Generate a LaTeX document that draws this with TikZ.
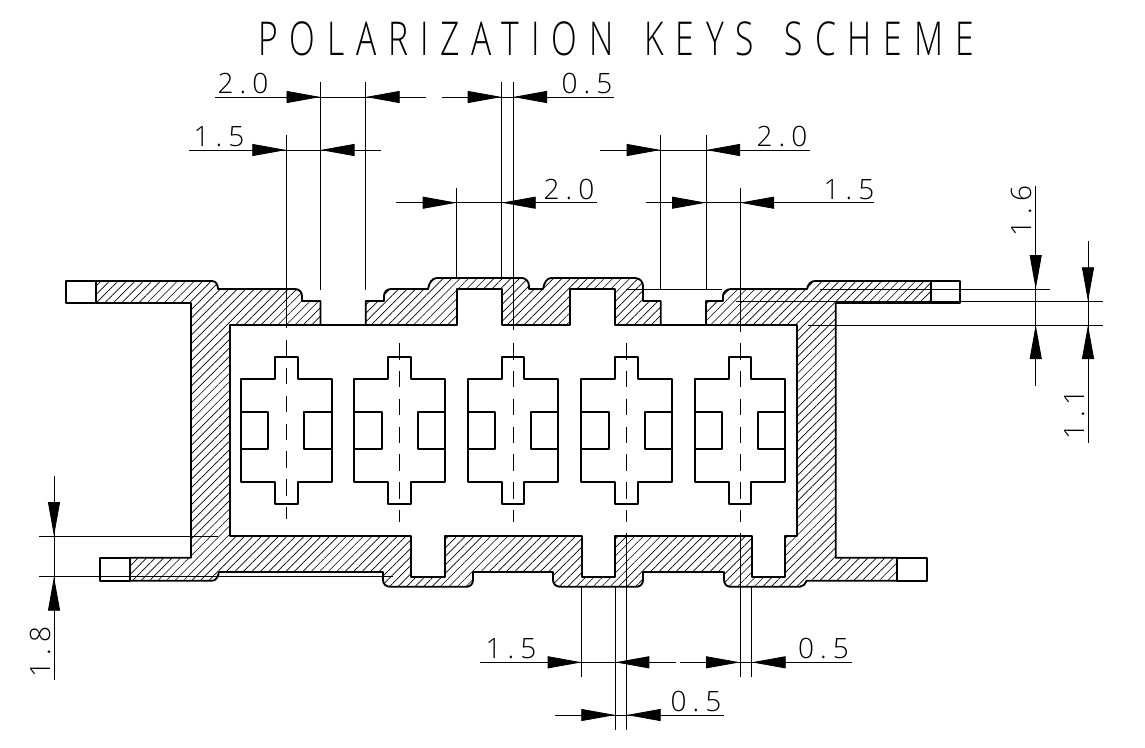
\documentclass[tikz,border=0pt]{standalone}
\usepackage{fontspec}
\usetikzlibrary{arrows.meta,patterns.meta}
\newfontfamily\isofont{Open Sans}[UprightFont=* Light,LetterSpace=22]
\newfontfamily\isotitle{Open Sans}[UprightFont=* Light,FakeStretch=0.72,LetterSpace=25.5,WordSpace=1.5]
\tikzset{
	thick line/.style={line width=1.4pt,line join=round},
	thin line/.style={line width=0.65pt},
	center line/.style={line width=0.65pt,dash pattern=on 12.4pt off 8.5pt},
	tip/.style={line width=0.65pt,-{Triangle[length=25.5pt,width=9pt]}},
	label/.style={inner sep=0pt,anchor=base,font=\isofont\fontsize{21}{21}\selectfont},
	hatch/.style={pattern={Lines[angle=45,distance=4.5pt,line width=0.5pt]},even odd rule}
}
\def\keyslot[#1](#2){
	\draw[#1] (#2-11.3,379) -- (#2-11.3,356.7) -- (#2+11.3,356.7) -- (#2+11.3,379) -- (#2+45.3,379) -- (#2+45.3,481.7) -- (#2+11.3,481.7) -- (#2+11.3,504.3) -- (#2-11.3,504.3) -- (#2-11.3,481.7) -- (#2-45.3,481.7) -- (#2-45.3,379) -- cycle;
	\draw[#1] (#2-45.3,412.3) -- (#2-18,412.3) -- (#2-18,449) -- (#2-45.3,449);
	\draw[#1] (#2+45.3,412.3) -- (#2+18,412.3) -- (#2+18,449) -- (#2+45.3,449);
}
\def\bodyouter{(96,281) -- (212,281) .. controls (216,281) and (218,285) .. (218,289) -- (295,289) .. controls (299,289) and (302,292) .. (302,296) -- (302,301) -- (320.5,301) -- (320.5,325) -- (365.7,325) -- (365.7,301) -- (384,301) -- (384,296) .. controls (384,292) and (387,289) .. (391,289) -- (428,289) .. controls (429,283) and (432,278) .. (437,278) -- (522,278) .. controls (526,278) and (529,282) .. (529,286) -- (529,289) -- (543,289) .. controls (544,283) and (547,278) .. (551,278) -- (635,278) .. controls (640,278) and (643,282) .. (643,286) -- (643,301) -- (660.7,301) -- (660.7,325) -- (706,325) -- (706,301) -- (723,301) -- (723,296) .. controls (723,292) and (727,289) .. (731,289) -- (807,289) .. controls (808,284) and (811,281) .. (815,281) -- (931,281) -- (931,303) -- (835.7,303) -- (835.7,557.7) -- (897,557.7) -- (897,580.7) -- (806.7,580.7) .. controls (805,584) and (803,586.7) .. (800,586.7) -- (730,586.7) .. controls (727,586.7) and (724,584) .. (724,580) -- (724,572) -- (643,572) -- (643,580) .. controls (643,584) and (640,586.7) .. (637,586.7) -- (560,586.7) .. controls (556,586.7) and (553,584) .. (553,580) -- (553,572) -- (473,572) -- (473,580) .. controls (473,584) and (470,586.7) .. (467,586.7) -- (390,586.7) .. controls (386,586.7) and (383,584) .. (383,580) -- (383,572) -- (219,572) .. controls (218,577) and (216,580.7) .. (212,580.7) -- (130,580.7) -- (130,557.7) -- (191,557.7) -- (191,303) -- (96,303) -- cycle}
\def\bodyinner{(230,325) -- (456.7,325) -- (456.7,289) -- (501.7,289) -- (501.7,325) -- (570,325) -- (570,289) -- (615,289) -- (615,325) -- (797,325) -- (797,536) -- (785,536) -- (785,576.7) -- (751.7,576.7) -- (751.7,536) -- (615.3,536) -- (615.3,576.7) -- (581.7,576.7) -- (581.7,536) -- (445,536) -- (445,576.7) -- (411,576.7) -- (411,536) -- (230,536) -- cycle}

\begin{document}
\begin{tikzpicture}[x=0.75pt,y=-0.75pt]
		\useasboundingbox (0,0) rectangle (1145,747);
		
		%%%%% BODY %%%%%
		\fill[hatch] \bodyouter \bodyinner;
		\draw[thick line] \bodyouter;
		\draw[thick line] \bodyinner;
		\draw[thick line] (96,281) rectangle (66,303);
		\draw[thick line] (931,281) rectangle (960,303);
		\draw[thick line] (130,557.7) rectangle (100,580.7);
		\draw[thick line] (897,557.7) rectangle (926.7,580.7);
		
		%%%%% KEYS %%%%%
		\keyslot[thick line](286.3)
		\keyslot[thick line](399.7)
		\keyslot[thick line](513)
		\keyslot[thick line](626.7)
		\keyslot[thick line](740)
		
		\draw[center line] (286.3,340) -- (286.3,519);
		\draw[center line] (399.7,343) -- (399.7,522);
		\draw[center line] (513,343) -- (513,522);
		\draw[center line] (626.7,343) -- (626.7,522);
		\draw[center line] (740,343) -- (740,522);
		
		%%%%% TOP DIMENSIONS %%%%%
		\draw[thin line] (286.3,135) -- (286.3,328);
		\draw[thin line] (320.5,82) -- (320.5,290);
		\draw[thin line] (365.7,82) -- (365.7,290);
		\draw[thin line] (456.7,188) -- (456.7,278);
		\draw[thin line] (501.7,82) -- (501.7,278);
		\draw[thin line] (513,82) -- (513,330);
		\draw[thin line] (660.7,135) -- (660.7,289);
		\draw[thin line] (706,135) -- (706,289);
		\draw[thin line] (740,188) -- (740,331.7);
		
		\draw[thin line] (215,97) -- (426,97);
		\draw[tip] (286,97) -- (320.5,97);
		\draw[tip] (400,97) -- (365.7,97);
		\draw[thin line] (441.7,97) -- (614,97);
		\draw[tip] (467.7,97) -- (501.7,97);
		\draw[tip] (547,97) -- (513,97);
		\draw[thin line] (189,150) -- (380.7,150);
		\draw[tip] (252,150) -- (286.3,150);
		\draw[tip] (355,150) -- (320.5,150);
		\draw[thin line] (600,150) -- (810,150);
		\draw[tip] (626.7,150) -- (660.7,150);
		\draw[tip] (740,150) -- (706,150);
		\draw[thin line] (396,202.7) -- (596.7,202.7);
		\draw[tip] (422,202.7) -- (456.7,202.7);
		\draw[tip] (536,202.7) -- (501.7,202.7);
		\draw[thin line] (645.7,202.7) -- (874,202.7);
		\draw[tip] (671.7,202.7) -- (706,202.7);
		\draw[tip] (774,202.7) -- (740,202.7);
		
		%%%%% RIGHT DIMENSIONS %%%%%
		\draw[thin line] (626,289) -- (722,289);
		\draw[thin line] (820,289) -- (1050,289);
		\draw[thin line] (736,301.3) -- (1103,301.3);
		\draw[thin line] (808,325) -- (1103,325);
		\draw[thin line] (1035.7,186) -- (1035.7,385.7);
		\draw[tip] (1035.7,255) -- (1035.7,289);
		\draw[tip] (1035.7,359) -- (1035.7,325);
		\draw[thin line] (1088,241) -- (1088,443);
		\draw[tip] (1088,267) -- (1088,301.3);
		\draw[tip] (1088,359) -- (1088,325);
		
		%%%%% LEFT DIMENSION %%%%%
		\draw[thin line] (39,536) -- (218,536);
		\draw[thin line] (39,576.7) -- (393,576.7);
		\draw[thin line] (54,476) -- (54,680);
		\draw[tip] (54,502) -- (54,536);
		\draw[tip] (54,611) -- (54,576.7);
		
		%%%%% BOTTOM DIMENSIONS %%%%%
		\draw[thin line] (581.7,587) -- (581.7,676.7);
		\draw[thin line] (615.3,587) -- (615.3,730);
		\draw[thin line] (626.7,533) -- (626.7,730);
		\draw[thin line] (740,533) -- (740,676.7);
		\draw[thin line] (751.7,587) -- (751.7,676.7);
		
		\draw[thin line] (480,662.3) -- (676,662.3);
		\draw[tip] (546.7,662.3) -- (581.7,662.3);
		\draw[tip] (650,662.3) -- (615.3,662.3);
		\draw[thin line] (680,662.3) -- (851.7,662.3);
		\draw[tip] (705.7,662.3) -- (740,662.3);
		\draw[tip] (786,662.3) -- (751.7,662.3);
		\draw[thin line] (555,715) -- (724,715);
		\draw[tip] (581,715) -- (615.3,715);
		\draw[tip] (661,715) -- (626.7,715);
		
		%%%%% LABELS %%%%%
		\node[inner sep=0pt,anchor=base,font=\isotitle\fontsize{35}{35}\selectfont] (title) at (616,55) {POLARIZATION KEYS SCHEME};
		\node[label] (topa) at (243,93) {2.0};
		\node[label] (topb) at (219,146) {1.5};
		\node[label] (topc) at (587,93) {0.5};
		\node[label] (topd) at (569,199) {2.0};
		\node[label] (tope) at (782,146) {2.0};
		\node[label] (topf) at (849,199) {1.5};
		\node[label,rotate=90] (righta) at (1031,211) {1.6};
		\node[label,rotate=90] (rightb) at (1084,414.5) {1.1};
		\node[label,rotate=90] (lefta) at (50,652) {1.8};
		\node[label] (bota) at (511,658) {1.5};
		\node[label] (botb) at (823.5,658) {0.5};
		\node[label] (botc) at (696,711) {0.5};
		
		%%%%% END %%%%%
	\end{tikzpicture}
\end{document}
